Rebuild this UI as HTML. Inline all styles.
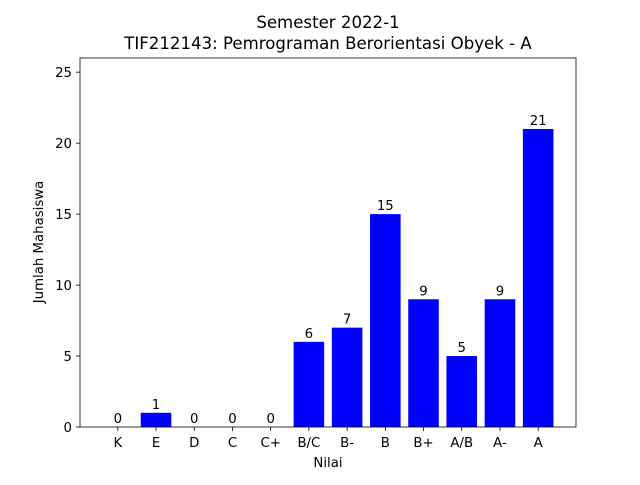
<!DOCTYPE html>
<html><head><meta charset="utf-8"><style>
body{margin:0;background:#fff;}
svg{font-family:"DejaVu Sans","Liberation Sans",sans-serif;}
</style></head><body>
<svg id="chart" width="640" height="480" xmlns="http://www.w3.org/2000/svg">
<rect width="640" height="480" fill="#fff"/>
<text x="328" y="28" text-anchor="middle" font-size="16.6">Semester 2022-1</text>
<text x="328" y="49" text-anchor="middle" font-size="16.6">TIF212143: Pemrograman Berorientasi Obyek - A</text>
<g id="bars"></g>
<g id="axes"></g>
<text x="328" y="467" text-anchor="middle" font-size="13.3">Nilai</text>
<text transform="translate(43,242) rotate(-90)" text-anchor="middle" font-size="13.3">Jumlah Mahasiswa</text>
</svg>
<script>
const categories = ["K","E","D","C","C+","B/C","B-","B","B+","A/B","A-","A"];
const counts = [0,1,0,0,0,6,7,15,9,5,9,21];
const yTicks = [0,5,10,15,20,25];

const L=80,R=576,T=58,B=427;
const ymax = 26, xmin=-0.99, xmax=11.99;
const NS="http://www.w3.org/2000/svg";
function xs(v){return L+(v-xmin)/(xmax-xmin)*(R-L);}
function ys(v){return B-v/ymax*(B-T);}
function mk(tag,attrs,parent){const e=document.createElementNS(NS,tag);for(const k in attrs)e.setAttribute(k,attrs[k]);parent.appendChild(e);return e;}
const bars=document.getElementById('bars'), axes=document.getElementById('axes');
const bw=(xs(0.4)-xs(-0.4));
categories.forEach((c,i)=>{
  const v=counts[i];
  const r=mk('rect',{x:xs(i)-bw/2,y:ys(v),width:bw,height:ys(0)-ys(v),fill:'#0000ff'},bars);
  
  
  const t=mk('text',{x:xs(i),y:ys(v)-4,'text-anchor':'middle','font-size':13.3},bars);
  t.textContent=v;
  
  
  mk('line',{x1:xs(i),x2:xs(i),y1:B,y2:B+4,stroke:'#000','stroke-width':0.8},axes);
  const xl=mk('text',{x:xs(i),y:B+20,'text-anchor':'middle','font-size':13.3},axes);
  xl.textContent=c;
  
  
});
yTicks.forEach(v=>{
  mk('line',{x1:L-4,x2:L,y1:ys(v),y2:ys(v),stroke:'#000','stroke-width':0.8},axes);
  const t=mk('text',{x:L-8,y:ys(v)+5,'text-anchor':'end','font-size':13.3},axes);
  t.textContent=v;
  
  
});
const f=mk('rect',{x:L,y:T,width:R-L,height:B-T,fill:'none',stroke:'#000','stroke-width':0.8},axes);


</script>
</body></html>
